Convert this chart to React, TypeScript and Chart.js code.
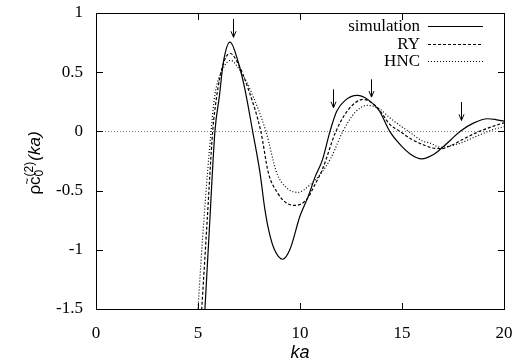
import React, { useEffect, useRef } from "react";
import { Chart, registerables } from "chart.js";

Chart.register(...registerables);

// ---- data ----
const simX = [5.25, 5.34, 5.58, 5.83, 6.05, 6.24, 6.57, 6.98, 7.3, 7.68, 8.04, 8.28, 8.5, 8.75, 9.15, 9.5, 10.0, 10.4, 10.75, 11.1, 11.47, 11.8, 12.2, 12.8, 13.4, 13.9, 14.4, 14.9, 15.4, 15.97, 16.5, 16.95, 17.4, 17.84, 18.5, 19.2, 19.6, 20];
const simY = [-1.8, -1.5, -0.75, 0, 0.3, 0.58, 0.754, 0.58, 0.355, 0, -0.35, -0.66, -0.86, -1.0, -1.08, -1.0, -0.715, -0.55, -0.38, -0.24, 0, 0.17, 0.26, 0.304, 0.26, 0.17, 0, -0.11, -0.19, -0.232, -0.2, -0.14, -0.07, 0, 0.07, 0.107, 0.1, 0.087];

const ryX = [5.05, 5.18, 5.45, 5.72, 5.92, 6.2, 6.57, 7.0, 7.47, 8.08, 8.45, 8.9, 9.3, 9.75, 10.33, 10.7, 11.1, 11.76, 12.4, 13.1, 13.8, 14.4, 14.9, 15.4, 16.0, 16.5, 16.95, 17.4, 17.84, 18.66, 19.5, 20];
const ryY = [-1.8, -1.5, -0.75, 0, 0.3, 0.55, 0.66, 0.56, 0.355, 0, -0.35, -0.52, -0.6, -0.625, -0.574, -0.46, -0.32, 0, 0.19, 0.27, 0.2, 0.06, 0, -0.06, -0.11, -0.14, -0.145, -0.12, -0.08, -0.01, 0.045, 0.073];

const hncX = [4.9, 5.0, 5.3, 5.64, 5.82, 6.2, 6.6, 7.0, 7.55, 8.33, 8.86, 9.3, 9.9, 10.5, 11.0, 11.5, 12.1, 12.7, 13.3, 13.9, 14.4, 15.4, 16.0, 16.4, 16.9, 17.4, 17.84, 18.66, 19.5, 20];
const hncY = [-1.8, -1.5, -0.72, 0, 0.3, 0.52, 0.6, 0.53, 0.355, 0, -0.35, -0.47, -0.515, -0.45, -0.36, -0.23, 0, 0.16, 0.22, 0.19, 0.115, -0.01, -0.08, -0.1, -0.135, -0.12, -0.1, -0.04, 0.017, 0.04];

const seriesNames = ["simulation", "RY", "HNC"];

const xTicks = [0, 5, 10, 15, 20];
const yTicks = [-1.5, -1, -0.5, 0, 0.5, 1];

const arrowX = [6.72, 11.64, 13.46, 17.88];
const arrowTop = [0.95, 0.355, 0.44, 0.248];
const arrowTip = [0.795, 0.2, 0.29, 0.093];

const SERIF = '"Liberation Serif", "Times New Roman", serif';
const SANS = '"Liberation Sans", Arial, sans-serif';

const dashes: number[][] = [[], [3, 2], [1, 2]];

const decor = {
  id: "decor",
  beforeDatasetsDraw(chart: any) {
    const ctx = chart.ctx;
    const a = chart.chartArea;
    const y0 = chart.scales.y.getPixelForValue(0);
    ctx.save();
    ctx.strokeStyle = "#808080";
    ctx.lineWidth = 1;
    ctx.setLineDash([1, 2]);
    ctx.beginPath();
    ctx.moveTo(a.left, Math.round(y0) + 0.5);
    ctx.lineTo(a.right, Math.round(y0) + 0.5);
    ctx.stroke();
    ctx.restore();
  },
  afterDraw(chart: any) {
    const ctx = chart.ctx;
    const a = chart.chartArea;
    const xs = chart.scales.x;
    const ys = chart.scales.y;
    const L = Math.round(a.left);
    const R = Math.round(a.right);
    const T = Math.round(a.top);
    const B = Math.round(a.bottom);
    ctx.save();
    ctx.fillStyle = "#000000";
    // frame as solid rectangles
    ctx.fillRect(L, T, R - L + 1, 1);
    ctx.fillRect(L, B, R - L + 1, 1);
    ctx.fillRect(L, T, 1, B - T + 1);
    ctx.fillRect(R, T, 1, B - T + 1);
    // inward ticks, mirrored
    const tl = 6;
    xTicks.forEach((v) => {
      const px = Math.round(xs.getPixelForValue(v));
      ctx.fillRect(px, B - tl, 1, tl);
      ctx.fillRect(px, T + 1, 1, tl);
    });
    yTicks.forEach((v) => {
      const py = Math.round(ys.getPixelForValue(v));
      ctx.fillRect(L + 1, py, tl, 1);
      ctx.fillRect(R - tl, py, tl, 1);
    });
    // arrows
    ctx.strokeStyle = "#000000";
    ctx.lineWidth = 1;
    ctx.setLineDash([]);
    arrowX.forEach((v, i) => {
      const px = Math.round(xs.getPixelForValue(v)) + 0.5;
      const pt = ys.getPixelForValue(arrowTop[i]);
      const pb = ys.getPixelForValue(arrowTip[i]);
      ctx.beginPath();
      ctx.moveTo(px, pt);
      ctx.lineTo(px, pb);
      ctx.stroke();
      ctx.beginPath();
      ctx.moveTo(px - 2.5, pb - 6);
      ctx.lineTo(px, pb);
      ctx.lineTo(px + 2.5, pb - 6);
      ctx.stroke();
    });
    // legend
    ctx.font = `17px ${SERIF}`;
    ctx.fillStyle = "#000";
    ctx.textAlign = "right";
    ctx.textBaseline = "middle";
    const ly = [26, 43.5, 61];
    seriesNames.forEach((n, i) => {
      ctx.fillText(n, 420, ly[i] + 1);
      ctx.beginPath();
      ctx.setLineDash(dashes[i]);
      ctx.lineWidth = 1.2;
      ctx.moveTo(428, Math.round(ly[i]) + 0.5);
      ctx.lineTo(483, Math.round(ly[i]) + 0.5);
      ctx.stroke();
    });
    ctx.setLineDash([]);
    // x title
    ctx.font = `italic 18px ${SANS}`;
    ctx.textAlign = "center";
    ctx.textBaseline = "alphabetic";
    ctx.fillText("ka", 300, 358);
    // y title (rotated)
    ctx.translate(40, 163);
    ctx.rotate(-Math.PI / 2);
    const main = `17px ${SANS}`;
    const small = `12px ${SANS}`;
    const ital = `italic 17px ${SANS}`;
    ctx.font = main;
    const wr = ctx.measureText("\u03c1").width;
    const wc = ctx.measureText("c").width;
    ctx.font = small;
    const ws = Math.max(ctx.measureText("(2)").width, ctx.measureText("0").width);
    ctx.font = ital;
    const wk = ctx.measureText("(ka)").width;
    const total = wr + wc + ws + 1 + wk;
    let x = -total / 2;
    ctx.textAlign = "left";
    ctx.font = main;
    ctx.fillText("\u03c1", x, 0);
    x += wr;
    ctx.fillText("c", x, 0);
    ctx.font = `11px ${SANS}`;
    ctx.fillText("~", x + 0.5, -9);
    x += wc;
    ctx.font = small;
    ctx.fillText("(2)", x, -7);
    ctx.fillText("0", x, 3);
    x += ws + 1;
    ctx.font = ital;
    ctx.fillText("(ka)", x, 0);
    ctx.restore();
  },
};

export default function App() {
  const ref = useRef<HTMLCanvasElement | null>(null);
  useEffect(() => {
    document.body.style.margin = "0";
    const mk = (xs: number[], ys: number[]) => xs.map((x, i) => ({ x, y: ys[i] }));
    const sets = [mk(simX, simY), mk(ryX, ryY), mk(hncX, hncY)];
    const chart = new Chart(ref.current as HTMLCanvasElement, {
      type: "line",
      data: {
        datasets: sets.map((d, i) => ({
          label: seriesNames[i],
          data: d,
          borderColor: "#000",
          borderWidth: 1.2,
          borderDash: dashes[i],
          pointRadius: 0,
          fill: false,
          cubicInterpolationMode: "monotone" as const,
        })),
      },
      plugins: [decor],
      options: {
        responsive: false,
        animation: false,
        layout: { padding: { left: 0, right: 11, top: 13, bottom: 0 } },
        plugins: { legend: { display: false }, tooltip: { enabled: false } },
        scales: {
          x: {
            type: "linear",
            min: 0,
            max: 20,
            afterBuildTicks: (s: any) => { s.ticks = xTicks.map((v) => ({ value: v })); },
            afterFit: (s: any) => { s.height = 53; s.paddingLeft = 0; s.paddingRight = 0; },
            grid: { display: false },
            border: { display: false },
            ticks: { color: "#000", font: { family: SERIF, size: 17 }, padding: 6, maxRotation: 0, autoSkip: false, callback: (v: any) => String(v) },
          },
          y: {
            type: "linear",
            min: -1.5,
            max: 1,
            afterBuildTicks: (s: any) => { s.ticks = yTicks.map((v) => ({ value: v })); },
            afterFit: (s: any) => { s.width = 96; s.paddingTop = 0; s.paddingBottom = 0; },
            grid: { display: false },
            border: { display: false },
            ticks: { color: "#000", font: { family: SERIF, size: 17 }, padding: 5, autoSkip: false, callback: (v: any) => String(v) },
          },
        },
      },
    });
    return () => chart.destroy();
  }, []);
  return (
    <div style={{ position: "absolute", left: 0, top: 0, width: 515, height: 362 }}>
      <canvas ref={ref} width={515} height={362} />
    </div>
  );
}
